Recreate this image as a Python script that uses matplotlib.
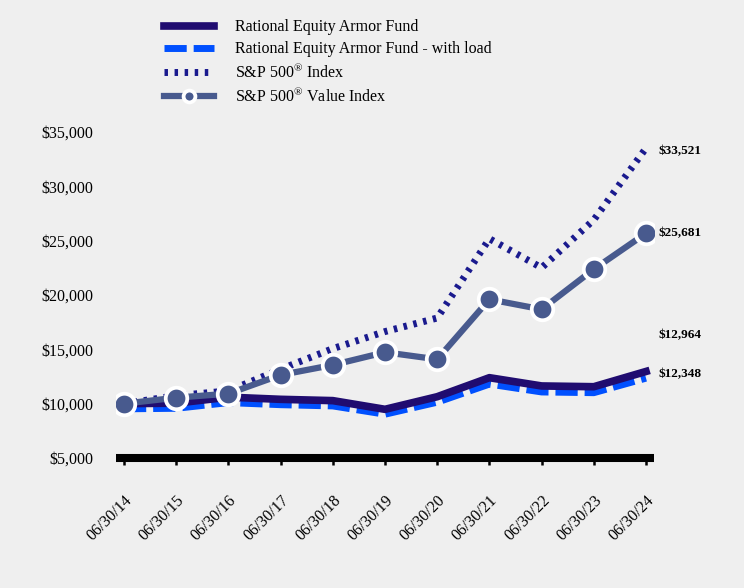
import matplotlib.pyplot as plt

plt.rcParams['font.family'] = ['Liberation Serif', 'DejaVu Serif']
plt.rcParams['mathtext.fontset'] = 'custom'
plt.rcParams['mathtext.rm'] = 'Liberation Serif'

dates = ['06/30/14', '06/30/15', '06/30/16', '06/30/17', '06/30/18', '06/30/19',
         '06/30/20', '06/30/21', '06/30/22', '06/30/23', '06/30/24']
fund = [10000, 10050, 10600, 10400, 10280, 9480, 10640, 12390, 11630, 11560, 12964]
fund_load = [9525, 9573, 10097, 9906, 9792, 9030, 10135, 11801, 11078, 11011, 12348]
sp500 = [10000, 10742, 11171, 13170, 15064, 16633, 17882, 25178, 22504, 26915, 33521]
sp500_value = [10000, 10550, 10920, 12640, 13560, 14730, 14080, 19600, 18680, 22370, 25681]

bg = '#efefef'
fig = plt.figure(figsize=(7.44, 5.88), dpi=100, facecolor=bg)
ax = fig.add_axes([116 / 744, 1 - 458 / 588, (654 - 116) / 744, (458 - 132) / 588])
ax.set_facecolor(bg)

x = range(len(dates))
ax.plot(x, fund_load, color='#0050ff', lw=5, dashes=(3.2, 1.0), solid_capstyle='butt',
        label='Rational Equity Armor Fund - with load', zorder=2)
ax.plot(x, fund, color='#200c70', lw=5.5, label='Rational Equity Armor Fund', zorder=3)
ax.plot(x, sp500, color='#1a1a8e', lw=5, dashes=(0.5, 0.95),
        label='S&P 500 Index', zorder=4)
ax.plot(x, sp500_value, color='#485a8e', lw=4.5, marker='o', ms=15.5, mfc='#485a8e',
        mec='white', mew=2.7, label='S&P 500 Value Index', zorder=5)

ax.set_xlim(-0.153, 10.153)
ax.set_ylim(5000, 35000)
ax.set_yticks(range(5000, 35001, 5000))
ax.set_yticklabels(['${:,}'.format(v) for v in range(5000, 35001, 5000)], fontsize=11.5)
ax.set_xticks(list(x))
ax.set_xticklabels(dates, rotation=45, ha='right', rotation_mode='anchor', fontsize=11.5)
ax.tick_params(axis='y', length=0, pad=16.5)
ax.tick_params(axis='x', length=5, width=1.8, color='black', pad=20)

for s in ['top', 'right', 'left']:
    ax.spines[s].set_visible(False)
ax.spines['bottom'].set_linewidth(5.8)
ax.spines['bottom'].set_capstyle('butt')

# end labels
ends = [(sp500[-1], -2), (sp500_value[-1], 0), (fund[-1], 26), (fund_load[-1], 3)]
for val, dy in ends:
    ax.annotate('${:,}'.format(val), (10, val), xytext=(9, dy), textcoords='offset points',
                fontsize=9.5, fontweight='bold', va='center', ha='left')

handles, labels = ax.get_legend_handles_labels()
order = [1, 0, 2, 3]
leg = fig.legend([handles[i] for i in order],
                 ['Rational Equity Armor Fund', 'Rational Equity Armor Fund - with load',
                  'S&P 500$^{\\mathrm{®}}$ Index', 'S&P 500$^{\\mathrm{®}}$ Value Index'],
                 loc='upper left', bbox_to_anchor=(150 / 744, 1 - 5 / 588), frameon=False,
                 fontsize=11.5, handlelength=3.1, handletextpad=1.35, labelspacing=0.36,
                 markerscale=0.55)

fig.savefig('out.png', dpi=100, facecolor=bg)
